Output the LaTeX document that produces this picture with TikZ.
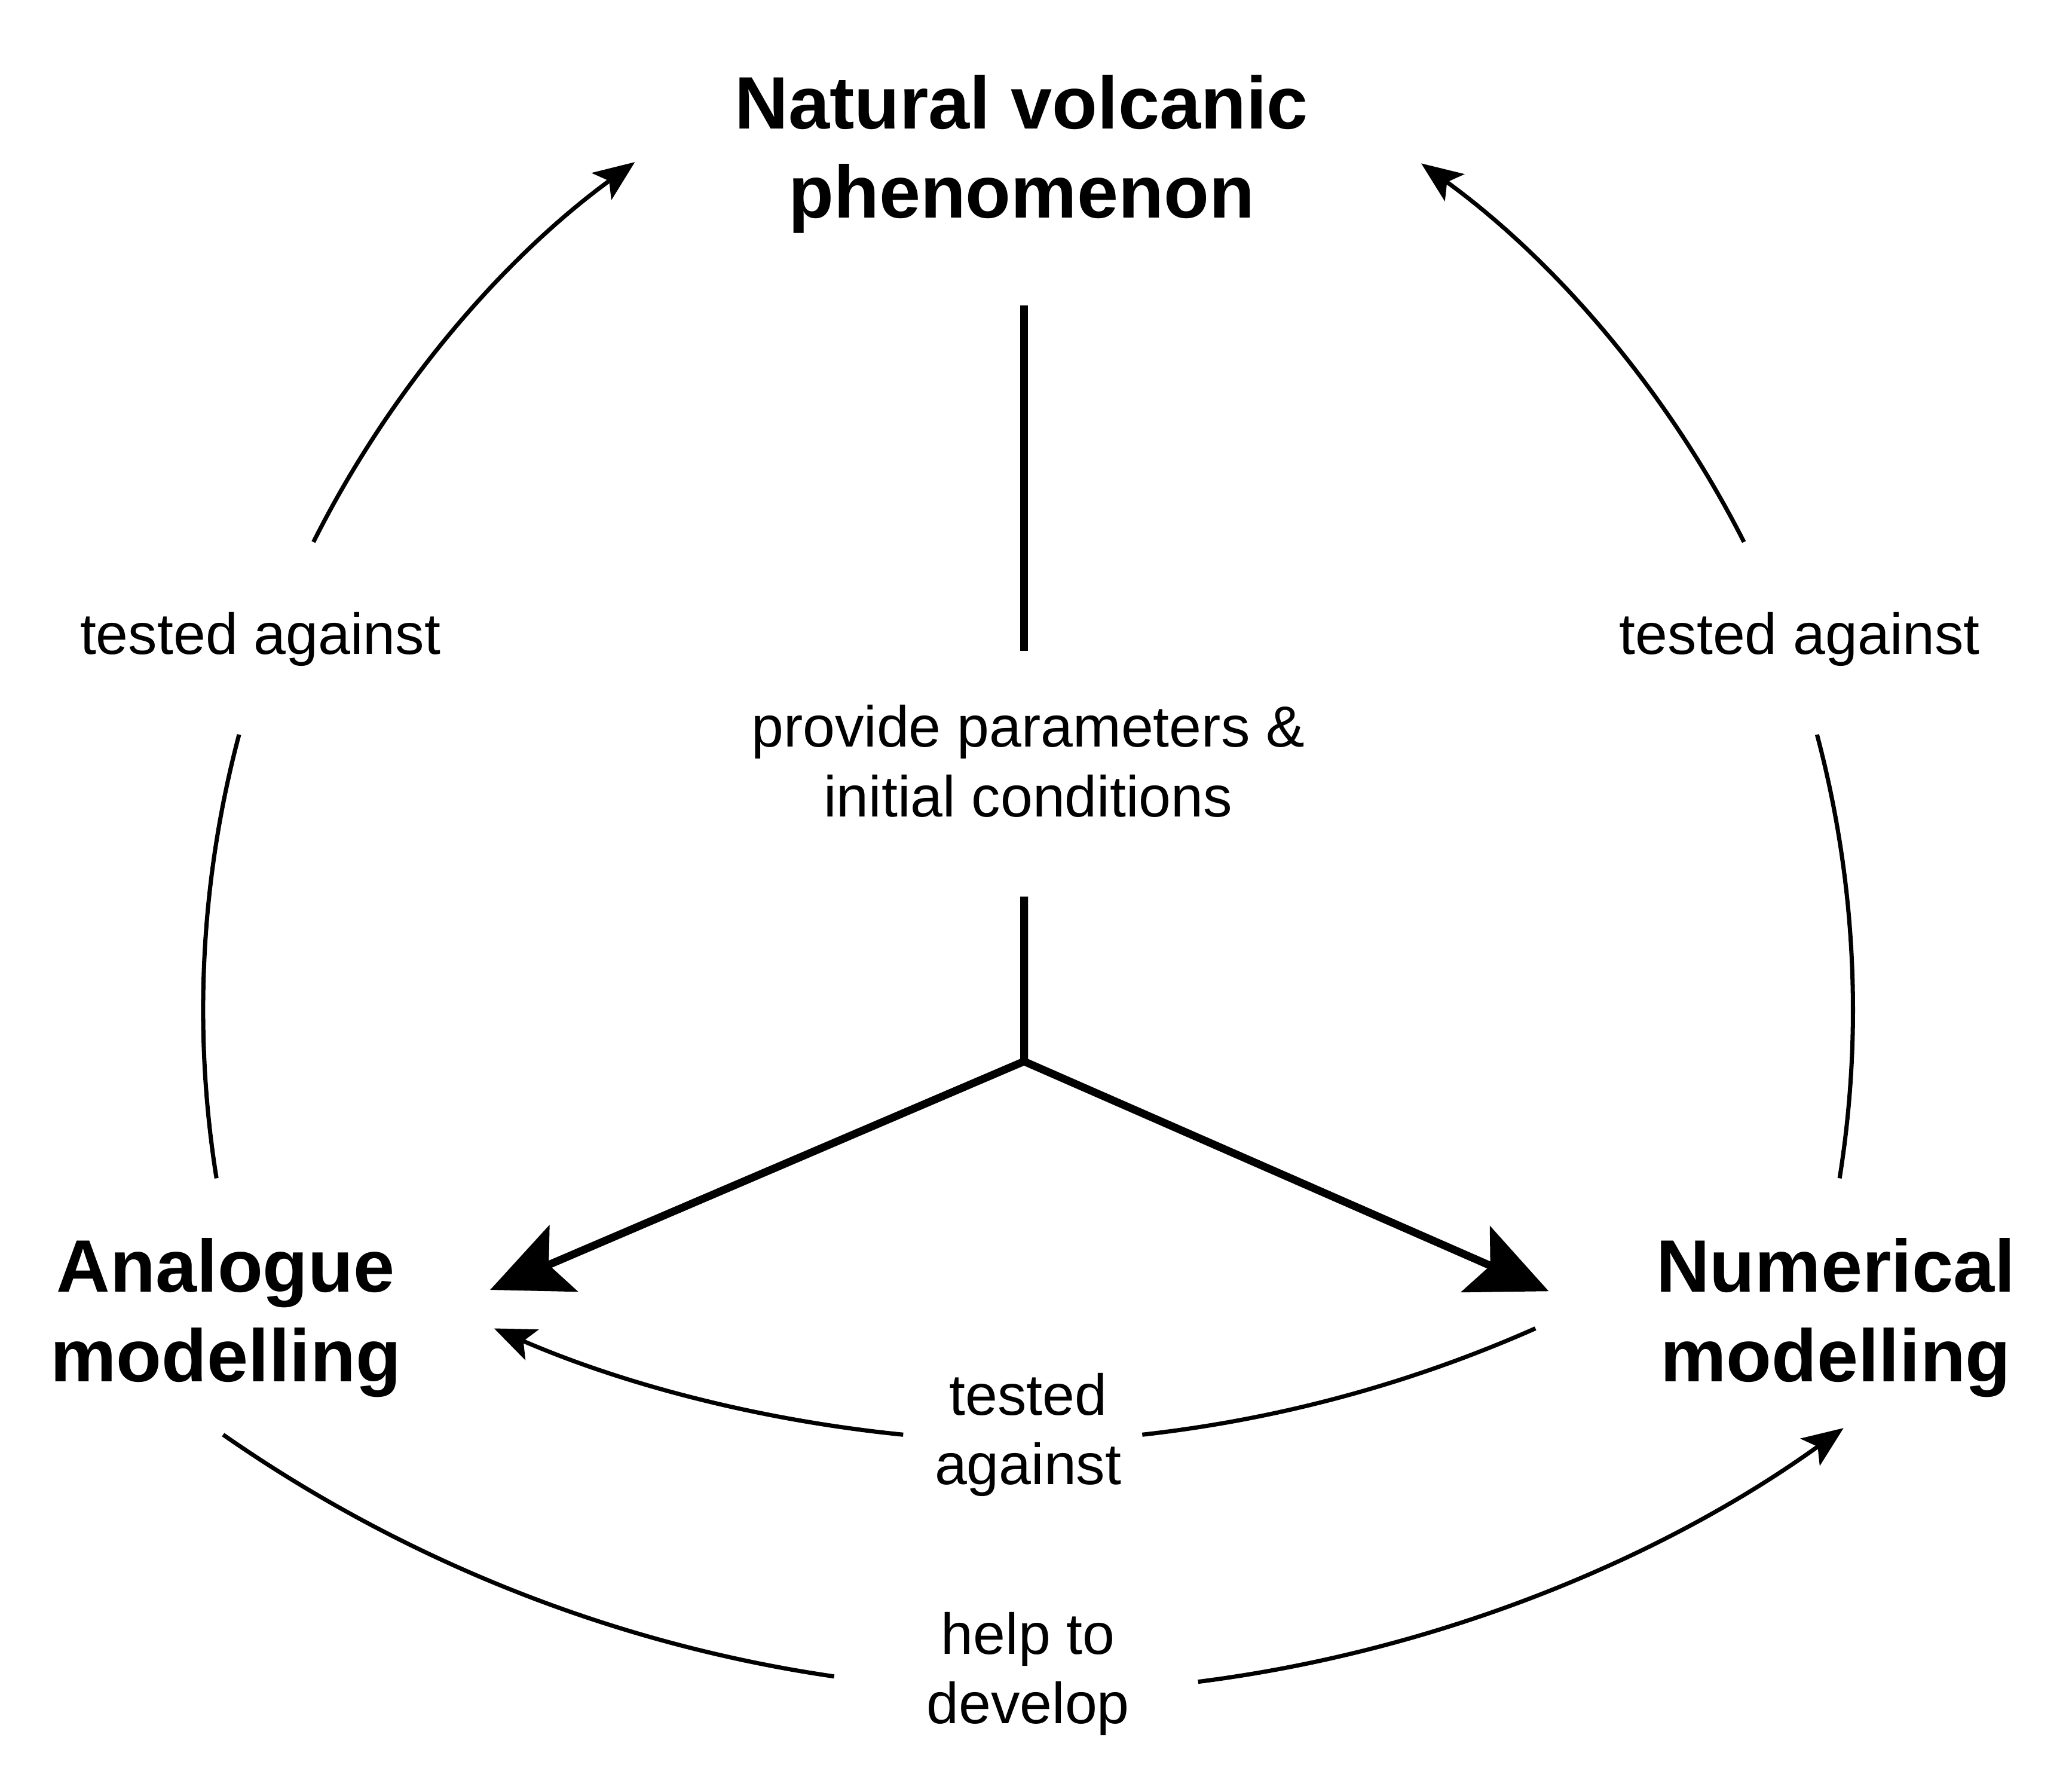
\documentclass[tikz,border=0pt]{standalone}
\usepackage{fontspec}
\setmainfont{Liberation Sans}
\usetikzlibrary{arrows.meta}

\begin{document}
\begin{tikzpicture}[
  topic/.style={align=center,font=\fontsize{15.9}{19.1}\selectfont\bfseries},
  remark/.style={align=center,font=\fontsize{12.4}{14.9}\selectfont},
  link/.style={line width=0.9pt,looseness=0.86},
  feed/.style={line width=1.66pt,line join=miter},
  thintip/.style={-{Stealth[length=3.1mm,width=2.5mm,inset=0.7mm]}},
  fattip/.style={-{Stealth[length=6mm,width=5.4mm,inset=1.2mm]}}]
\useasboundingbox (0,0) rectangle (15.6,-13.377);
\node (nat) at (7.69,-1.16) [topic] {Natural volcanic\\phenomenon};
\node (ana) at (1.70,-9.92) [topic] {Analogue\\modelling};
\node (num) at (13.82,-9.92) [topic] {Numerical\\modelling};
\node (prov) at (7.74,-5.73) [remark] {provide parameters \&\\initial conditions};
\node (testL) at (1.96,-4.81) [remark] {tested against};
\node (testR) at (13.55,-4.81) [remark] {tested against};
\node (testM) at (7.74,-10.80) [remark] {tested\\against};
\node (help) at (7.74,-12.60) [remark] {help to\\develop};
\coordinate (v1) at (7.71,-2.30);
\coordinate (v2) at (7.71,-4.90);
\coordinate (v3) at (7.71,-6.75);
\coordinate (junc) at (7.71,-7.99);
\coordinate (anaTip) at (3.69,-9.71);
\coordinate (numTip) at (11.66,-9.72);
\coordinate (l1) at (1.63,-8.87);
\coordinate (l2) at (1.80,-5.53);
\coordinate (l3) at (2.36,-4.08);
\coordinate (l4) at (4.78,-1.22);
\coordinate (r1) at (13.85,-8.87);
\coordinate (r2) at (13.68,-5.53);
\coordinate (r3) at (13.13,-4.08);
\coordinate (r4) at (10.70,-1.23);
\coordinate (m1) at (11.56,-10.00);
\coordinate (m2) at (8.60,-10.80);
\coordinate (m3) at (6.80,-10.80);
\coordinate (m4) at (3.72,-10.00);
\coordinate (b1) at (1.68,-10.80);
\coordinate (b2) at (6.28,-12.62);
\coordinate (b3) at (9.02,-12.66);
\coordinate (b4) at (13.88,-10.75);
\draw[feed] (v1) -- (v2);
\draw[feed,fattip] (v3) -- (junc) -- (anaTip);
\draw[feed,fattip] (v3) -- (junc) -- (numTip);
\draw[link] (l1) to[bend left=12] (l2);
\draw[link,thintip] (l3) to[bend left=13.6] (l4);
\draw[link] (r1) to[bend right=12] (r2);
\draw[link,thintip] (r3) to[bend right=13.6] (r4);
\draw[link] (m1) to[bend left=8.75] (m2);
\draw[link,thintip] (m3) to[bend left=8.85] (m4);
\draw[link] (b1) to[bend right=13.3] (b2);
\draw[link,thintip] (b3) to[bend right=14.25] (b4);
\end{tikzpicture}
\end{document}
